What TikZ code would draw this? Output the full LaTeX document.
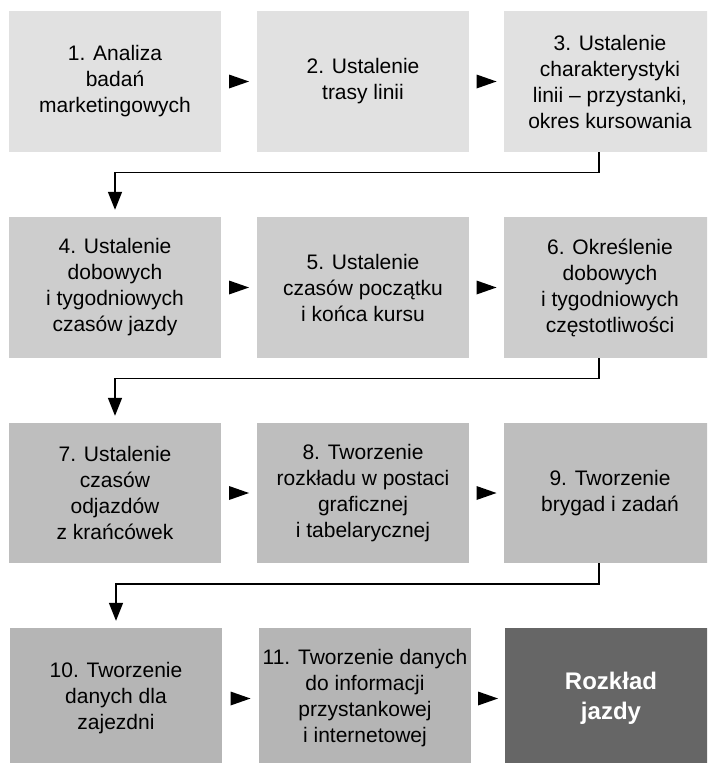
\documentclass[tikz,border=0pt]{standalone}
\usepackage{fontspec}
\setmainfont{Liberation Sans}
\usetikzlibrary{arrows.meta,calc}
\definecolor{rowA}{RGB}{225,225,225}
\definecolor{rowB}{RGB}{205,205,205}
\definecolor{rowC}{RGB}{190,190,190}
\definecolor{rowD}{RGB}{181,181,181}
\definecolor{finbox}{RGB}{102,102,102}
\tikzset{
  box/.style={rectangle, draw=none, minimum width=212pt, minimum height=141pt,
    inner sep=0pt, align=center, font=\fontsize{21}{26}\selectfont, text=black},
  finalbox/.style={box, fill=finbox, text=white, font=\fontsize{24}{30}\selectfont\bfseries},
  conn/.style={line width=1.5pt, -{Triangle[length=18pt,width=14pt]}, shorten >=7pt},
}
\newcommand{\tri}[2]{\fill ($(#1.east)!0.5!(#2.west)$) +(-10pt,7pt) -- +(10pt,0pt) -- +(-10pt,-7pt) -- cycle;}
\begin{document}
\begin{tikzpicture}[x=1pt,y=1pt]
\useasboundingbox (0,0) rectangle (707,-763);
\clip (0,0) rectangle (707,-763);
% row 1
\node[box, fill=rowA] (b1) at (115,-81.5) {1. Analiza\\badań\\marketingowych};
\node[box, fill=rowA] (b2) at (363,-81.5) {2. Ustalenie\\trasy linii};
\node[box, fill=rowA] (b3) at (610,-81.5) {3. Ustalenie\\charakterystyki\\linii – przystanki,\\okres kursowania};
% row 2
\node[box, fill=rowB] (b4) at (115,-287.5) {4. Ustalenie\\dobowych\\i tygodniowych\\czasów jazdy};
\node[box, fill=rowB] (b5) at (363,-287.5) {5. Ustalenie\\czasów początku\\i końca kursu};
\node[box, fill=rowB] (b6) at (610,-287.5) {6. Określenie\\dobowych\\i tygodniowych\\częstotliwości};
% row 3
\node[box, fill=rowC, minimum height=140pt] (b7) at (115,-493) {7. Ustalenie\\czasów\\odjazdów\\z krańcówek};
\node[box, fill=rowC, minimum height=140pt] (b8) at (363,-493) {8. Tworzenie\\rozkładu w postaci\\graficznej\\i tabelarycznej};
\node[box, fill=rowC, minimum height=140pt] (b9) at (610,-493) {9. Tworzenie\\brygad i zadań};
% row 4
\node[box, fill=rowD] (b10) at (116,-698.5) {10. Tworzenie\\danych dla\\zajezdni};
\node[box, fill=rowD] (b11) at (365,-698.5) {11. Tworzenie danych\\do informacji\\przystankowej\\i internetowej};
\node[finalbox] (b12) at (611,-698.5) {Rozkład\\jazdy};
% horizontal triangles
\tri{b1}{b2}
\tri{b2}{b3}
\tri{b4}{b5}
\tri{b5}{b6}
\tri{b7}{b8}
\tri{b8}{b9}
\tri{b10}{b11}
\tri{b11}{b12}
% row-change connectors
\coordinate (s3) at ([xshift=-11pt]b3.south);
\coordinate (s6) at ([xshift=-11pt]b6.south);
\coordinate (s9) at ([xshift=-11pt]b9.south);
\draw[conn] (s3) -- ++(0,-20.5) -| (b4.north);
\draw[conn] (s6) -- ++(0,-20.5) -| (b7.north);
\draw[conn] (s9) -- ++(0,-21) -| (b10.north);
\end{tikzpicture}
\end{document}
